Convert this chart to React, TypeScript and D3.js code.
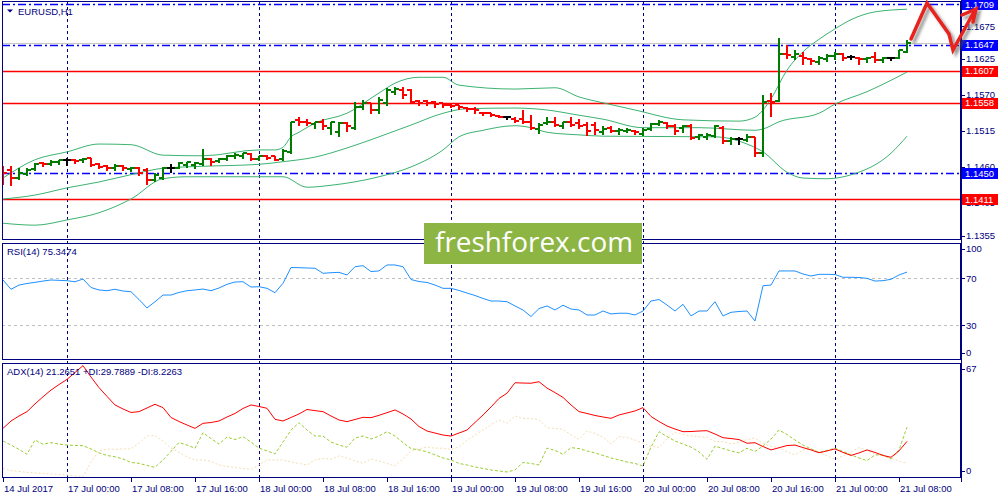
import React from 'react';
import * as d3 from 'd3';

// ---------- DATA ----------
const symbolTitle = 'EURUSD,H1';
const rsiTitle = 'RSI(14) 75.3474';
const adxTitle = 'ADX(14) 21.2651 +DI:29.7889 -DI:8.2263';
const watermark = 'freshforex.com';

const opens = [
  1.1456, 1.1456, 1.1443, 1.1449, 1.1457, 1.1466, 1.1465, 1.1468, 1.1470, 1.1471,
  1.1470, 1.1473, 1.1464, 1.1462, 1.1459, 1.1462, 1.1457, 1.1459, 1.1455, 1.1440,
  1.1443, 1.1458, 1.1459, 1.1463, 1.1463, 1.1465, 1.1472, 1.1469, 1.1472, 1.1476,
  1.1477, 1.1480, 1.1472, 1.1476, 1.1476, 1.1472, 1.1483, 1.1532, 1.1529, 1.1526,
  1.1528, 1.1519, 1.1514, 1.1527, 1.1519, 1.1552, 1.1557, 1.1547, 1.1557, 1.1575,
  1.1578, 1.1578, 1.1561, 1.1561, 1.1560, 1.1557, 1.1555, 1.1554, 1.1550, 1.1549,
  1.1543, 1.1542, 1.1538, 1.1536, 1.1534, 1.1533, 1.1529, 1.1518, 1.1527, 1.1529,
  1.1522, 1.1529, 1.1527, 1.1524, 1.1524, 1.1514, 1.1520, 1.1515, 1.1515, 1.1515,
  1.1511, 1.1518, 1.1526, 1.1527, 1.1522, 1.1519, 1.1522, 1.1505, 1.1505, 1.1507,
  1.1520, 1.1500, 1.1502, 1.1501, 1.1505, 1.1482, 1.1561, 1.1561, 1.1633, 1.1628,
  1.1630, 1.1625, 1.1621, 1.1625, 1.1630, 1.1632, 1.1628, 1.1626, 1.1625, 1.1628,
  1.1623, 1.1626, 1.1627, 1.1636,
];
const highs = [
  1.1461, 1.1461, 1.1459, 1.1458, 1.1466, 1.1468, 1.1470, 1.1471, 1.1473, 1.1472,
  1.1473, 1.1473, 1.1466, 1.1463, 1.1465, 1.1463, 1.1460, 1.1460, 1.1458, 1.1450,
  1.1460, 1.1464, 1.1468, 1.1468, 1.1468, 1.1487, 1.1474, 1.1474, 1.1479, 1.1481,
  1.1482, 1.1481, 1.1477, 1.1478, 1.1477, 1.1487, 1.1529, 1.1536, 1.1534, 1.1529,
  1.1533, 1.1529, 1.1528, 1.1529, 1.1560, 1.1562, 1.1558, 1.1567, 1.1580, 1.1582,
  1.1582, 1.1579, 1.1563, 1.1562, 1.1561, 1.1558, 1.1557, 1.1555, 1.1552, 1.1551,
  1.1544, 1.1543, 1.1539, 1.1538, 1.1536, 1.1547, 1.1539, 1.1527, 1.1536, 1.1536,
  1.1529, 1.1537, 1.1533, 1.1528, 1.1529, 1.1522, 1.1522, 1.1519, 1.1519, 1.1516,
  1.1519, 1.1527, 1.1532, 1.1528, 1.1526, 1.1524, 1.1525, 1.1510, 1.1512, 1.1524,
  1.1522, 1.1505, 1.1506, 1.1510, 1.1506, 1.1570, 1.1573, 1.1657, 1.1646, 1.1638,
  1.1636, 1.1627, 1.1630, 1.1633, 1.1635, 1.1634, 1.1631, 1.1628, 1.1628, 1.1636,
  1.1628, 1.1628, 1.1639, 1.1654,
];
const lows = [
  1.1434, 1.1432, 1.1441, 1.1448, 1.1455, 1.1462, 1.1463, 1.1464, 1.1463, 1.1466,
  1.1467, 1.1462, 1.1458, 1.1455, 1.1456, 1.1455, 1.1454, 1.1448, 1.1434, 1.1439,
  1.1441, 1.1453, 1.1458, 1.1460, 1.1459, 1.1463, 1.1463, 1.1468, 1.1470, 1.1473,
  1.1474, 1.1471, 1.1470, 1.1472, 1.1470, 1.1471, 1.1482, 1.1524, 1.1524, 1.1519,
  1.1518, 1.1511, 1.1508, 1.1515, 1.1518, 1.1548, 1.1543, 1.1543, 1.1555, 1.1571,
  1.1566, 1.1557, 1.1555, 1.1555, 1.1552, 1.1551, 1.1551, 1.1548, 1.1546, 1.1543,
  1.1539, 1.1538, 1.1536, 1.1533, 1.1528, 1.1527, 1.1518, 1.1512, 1.1525, 1.1522,
  1.1519, 1.1522, 1.1520, 1.1509, 1.1511, 1.1511, 1.1514, 1.1511, 1.1513, 1.1511,
  1.1509, 1.1516, 1.1524, 1.1519, 1.1511, 1.1514, 1.1502, 1.1502, 1.1502, 1.1506,
  1.1496, 1.1495, 1.1495, 1.1500, 1.1477, 1.1476, 1.1538, 1.1561, 1.1627, 1.1625,
  1.1617, 1.1617, 1.1618, 1.1622, 1.1625, 1.1623, 1.1625, 1.1617, 1.1621, 1.1621,
  1.1621, 1.1623, 1.1626, 1.1635,
];
const closes = [
  1.1450, 1.1443, 1.1451, 1.1455, 1.1465, 1.1464, 1.1468, 1.1470, 1.1470, 1.1469,
  1.1472, 1.1463, 1.1460, 1.1459, 1.1462, 1.1459, 1.1459, 1.1450, 1.1440, 1.1448,
  1.1458, 1.1458, 1.1466, 1.1467, 1.1466, 1.1472, 1.1468, 1.1472, 1.1477, 1.1478,
  1.1481, 1.1472, 1.1476, 1.1474, 1.1471, 1.1485, 1.1529, 1.1528, 1.1527, 1.1528,
  1.1522, 1.1528, 1.1527, 1.1523, 1.1552, 1.1557, 1.1547, 1.1562, 1.1578, 1.1579,
  1.1570, 1.1560, 1.1558, 1.1558, 1.1556, 1.1554, 1.1553, 1.1551, 1.1548, 1.1547,
  1.1542, 1.1540, 1.1537, 1.1536, 1.1530, 1.1528, 1.1519, 1.1524, 1.1529, 1.1524,
  1.1528, 1.1524, 1.1523, 1.1515, 1.1516, 1.1518, 1.1515, 1.1516, 1.1516, 1.1513,
  1.1516, 1.1525, 1.1528, 1.1522, 1.1515, 1.1522, 1.1504, 1.1509, 1.1509, 1.1522,
  1.1499, 1.1502, 1.1502, 1.1506, 1.1482, 1.1560, 1.1560, 1.1633, 1.1631, 1.1633,
  1.1626, 1.1622, 1.1626, 1.1630, 1.1632, 1.1626, 1.1628, 1.1625, 1.1627, 1.1623,
  1.1626, 1.1626, 1.1638, 1.1649,
];

// Bollinger bands, read at the listed bar indices
const bbUpperIdx = [0, 4, 8, 12, 16, 20, 25, 32, 34, 35, 36, 37, 39, 43, 47, 49, 52, 55, 57, 64, 69, 72, 75, 79, 85, 92, 94, 95, 96, 98, 100, 102, 104, 106, 109, 113];
const bbUpperVal = [1.1443, 1.1471, 1.1483, 1.1495, 1.1494, 1.1478, 1.1477, 1.1486, 1.1486, 1.1490, 1.1506, 1.1513, 1.1527, 1.1542, 1.1573, 1.1588, 1.1597, 1.1597, 1.1585, 1.1579, 1.1581, 1.1567, 1.1558, 1.1547, 1.1532, 1.1530, 1.1536, 1.1547, 1.1564, 1.1608, 1.1636, 1.1655, 1.1671, 1.1685, 1.1697, 1.1701];
const bbMiddleIdx = [0, 4, 8, 12, 17, 20, 25, 32, 35, 39, 43, 47, 51, 55, 58, 64, 68, 72, 75, 80, 87, 94, 95, 97, 102, 104, 108, 113];
const bbMiddleVal = [1.1411, 1.1417, 1.1428, 1.1437, 1.1451, 1.1458, 1.1461, 1.1464, 1.1468, 1.1475, 1.1489, 1.1506, 1.1524, 1.1542, 1.1549, 1.1550, 1.1547, 1.1539, 1.1533, 1.1520, 1.1520, 1.1516, 1.1518, 1.1529, 1.1542, 1.1556, 1.1575, 1.1605];
const bbLowerIdx = [0, 4, 8, 12, 16, 20, 23, 32, 35, 38, 41, 47, 51, 55, 57, 60, 64, 66, 68, 72, 75, 89, 93, 95, 98, 100, 103, 106, 111, 113];
const bbLowerVal = [1.1374, 1.1371, 1.1379, 1.1390, 1.1411, 1.1442, 1.1445, 1.1445, 1.1445, 1.1429, 1.1432, 1.1445, 1.1460, 1.1486, 1.1506, 1.1516, 1.1523, 1.1520, 1.1513, 1.1509, 1.1507, 1.1506, 1.1495, 1.1483, 1.1452, 1.1443, 1.1442, 1.1448, 1.1481, 1.1507];

const rsi = [
  68.6, 60.7, 64.3, 65.6, 66.6, 67.7, 68.6, 68.3, 68.0, 67.1,
  69.4, 62.2, 60.1, 59.5, 60.7, 59.2, 58.6, 52.0, 44.8, 50.1,
  55.8, 55.8, 58.0, 59.5, 60.1, 60.9, 59.5, 61.8, 64.9, 66.9,
  67.1, 62.6, 62.9, 61.5, 57.8, 65.8, 79.2, 79.1, 78.8, 78.6,
  74.3, 74.8, 75.1, 72.9, 79.9, 80.8, 75.8, 76.3, 81.4, 81.4,
  79.9, 69.0, 67.3, 66.5, 64.3, 61.5, 61.5, 59.7, 57.5, 55.4,
  52.9, 50.7, 50.7, 50.1, 46.5, 43.1, 37.5, 44.3, 46.5, 43.1,
  47.1, 43.9, 43.1, 38.8, 38.8, 42.2, 39.7, 40.3, 40.3, 38.8,
  42.2, 50.7, 52.0, 47.3, 42.2, 47.9, 38.0, 42.2, 42.2, 50.1,
  38.0, 41.1, 41.8, 42.2, 33.7, 63.7, 64.3, 76.3, 76.3, 76.3,
  73.7, 72.0, 73.4, 73.4, 73.3, 70.9, 70.9, 70.7, 70.0, 67.7,
  68.0, 69.2, 72.9, 75.3,
];
const adx = [
  29.1, 33.5, 36.5, 39.1, 43.7, 48.0, 52.0, 55.3, 58.4, 62.5,
  66.6, 59.8, 53.5, 48.2, 43.1, 40.7, 38.6, 39.1, 41.3, 43.5,
  41.5, 35.6, 33.2, 31.1, 29.1, 32.1, 32.6, 33.5, 35.9, 38.0,
  41.0, 43.1, 42.2, 41.1, 34.5, 33.5, 35.6, 37.7, 40.4, 39.7,
  39.1, 36.5, 34.1, 33.1, 34.4, 35.7, 35.5, 36.9, 38.5, 40.1,
  37.7, 34.7, 30.2, 27.5, 26.3, 25.1, 24.5, 26.3, 28.1, 32.6,
  37.1, 41.9, 47.0, 50.1, 56.4, 56.2, 56.1, 57.0, 53.2, 50.5,
  47.6, 43.1, 39.1, 38.0, 36.8, 35.9, 35.1, 37.1, 38.3, 39.5,
  41.5, 36.2, 33.2, 30.5, 28.7, 27.1, 27.2, 27.5, 27.7, 25.7,
  23.5, 23.0, 22.4, 20.2, 20.5, 18.2, 16.2, 17.5, 18.8, 19.1,
  17.6, 16.2, 14.5, 15.6, 16.8, 14.7, 12.9, 14.4, 16.2, 14.7,
  12.9, 11.8, 15.6, 21.3,
];
const plusDI = [
  21.5, 19.1, 16.5, 13.6, 22.1, 19.6, 20.5, 19.7, 19.1, 18.9,
  18.7, 16.8, 14.4, 12.9, 12.1, 10.8, 8.7, 8.2, 6.9, 5.8,
  10.2, 15.3, 20.6, 19.1, 17.2, 26.5, 23.0, 19.7, 23.9, 22.4,
  24.1, 20.9, 17.3, 15.6, 13.8, 20.9, 28.1, 32.5, 28.1, 24.5,
  24.5, 20.9, 19.1, 17.8, 23.3, 24.5, 22.7, 24.5, 27.1, 24.5,
  20.6, 17.0, 16.2, 15.1, 13.2, 11.4, 10.2, 8.1, 7.2, 6.0,
  5.1, 4.2, 3.6, 3.0, 4.2, 8.7, 8.1, 7.2, 17.3, 15.9,
  13.6, 17.6, 17.0, 15.6, 14.4, 12.9, 11.4, 10.2, 9.0, 8.1,
  6.6, 17.9, 27.1, 24.2, 21.5, 19.7, 17.9, 15.0, 10.6, 18.5,
  17.0, 15.6, 14.4, 17.2, 15.3, 18.5, 22.7, 28.1, 25.4, 22.1,
  19.1, 16.8, 14.7, 15.9, 17.2, 15.3, 13.2, 11.4, 9.8, 13.2,
  13.2, 10.8, 16.2, 29.8,
];
const minusDI = [
  5.2, 3.9, 3.3, 2.8, 2.5, 2.1, 1.8, 1.5, 1.2, 0.6,
  0.2, 9.0, 15.6, 16.6, 16.6, 16.8, 16.8, 20.3, 24.5, 24.8,
  21.5, 17.3, 14.7, 12.0, 10.2, 10.2, 9.3, 7.2, 6.3, 5.7,
  5.1, 4.6, 7.2, 10.2, 10.2, 10.2, 9.0, 8.1, 7.2, 10.2,
  11.1, 10.6, 12.6, 11.4, 9.6, 8.2, 10.8, 9.6, 8.1, 6.6,
  10.8, 15.6, 17.0, 17.8, 17.3, 17.2, 16.5, 17.9, 22.1, 25.1,
  28.1, 31.1, 34.1, 32.1, 36.5, 35.0, 35.1, 34.1, 29.6, 29.0,
  28.5, 25.1, 22.6, 27.5, 26.0, 23.9, 19.7, 24.2, 23.6, 22.1,
  20.2, 18.2, 17.8, 22.7, 26.9, 25.4, 24.5, 24.2, 23.7, 21.2,
  21.2, 19.7, 20.9, 22.4, 23.3, 20.0, 18.5, 17.6, 15.0, 13.2,
  16.2, 17.0, 15.0, 12.6, 10.6, 12.6, 15.0, 17.6, 15.9, 13.8,
  12.6, 11.2, 9.6, 8.2,
];

const priceTicks = [1.1355, 1.1405, 1.1460, 1.1515, 1.1570, 1.1625, 1.1675];
const blueLevels = [1.1709, 1.1647, 1.1450];
const redLevels = [1.1607, 1.1558, 1.1411];
const rsiLevels = [70, 30];
const rsiAxisLabels = [100, 70, 30, 0];
const adxAxisLabels = [67, 0];
const timeLabelIdx = [0, 8, 16, 24, 32, 40, 48, 56, 64, 72, 80, 88, 96, 104, 112];
const timeLabels = [
  '14 Jul 2017', '17 Jul 00:00', '17 Jul 08:00', '17 Jul 16:00', '18 Jul 00:00',
  '18 Jul 08:00', '18 Jul 16:00', '19 Jul 00:00', '19 Jul 08:00', '19 Jul 16:00',
  '20 Jul 00:00', '20 Jul 08:00', '20 Jul 16:00', '21 Jul 00:00', '21 Jul 08:00',
];
const dayStartIdx = [8, 32, 56, 80, 104];

// ---------- LAYOUT ----------
const L = 2, R = 961;
const main = { top: 1, bottom: 240 };
const rsiP = { top: 243, bottom: 360 };
const adxP = { top: 363, bottom: 478 };
const NAVY = '#000080';
const FONT = "'Liberation Sans', Arial, sans-serif";

export default function App() {
  const n = closes.length;
  const x = d3.scaleLinear().domain([0, 113]).range([3, 907]);
  const y = d3.scaleLinear().domain([1.1709, 1.1411]).range([4, 199]);
  const yr = d3.scaleLinear().domain([0, 100]).range([360.6, 243.1]);
  const ya = d3.scaleLinear().domain([0, 67]).range([477, 365]);

  const bandLine = (idx: number[], vals: number[]) =>
    d3.line<number>().x((_, i) => x(idx[i])).y((v) => y(v)).curve(d3.curveMonotoneX)(vals) || '';
  const seriesLine = (vals: number[], sc: d3.ScaleLinear<number, number>) =>
    d3.line<number>().x((_, i) => x(i)).y((v) => sc(v))(vals) || '';

  const clampY = (v: number, top: number, bottom: number) => Math.max(top + 6, Math.min(bottom - 7, v));
  const rnd = (v: number) => Math.round(v);

  const bars = d3.range(n).map((i) => {
    const o = opens[i], c = closes[i];
    const col = c > o ? '#007d00' : c < o ? '#ff0000' : '#000000';
    const xi = rnd(x(i));
    return (
      <g key={i} stroke={col} strokeWidth={2} shapeRendering="crispEdges">
        <line x1={xi} x2={xi} y1={rnd(y(highs[i]))} y2={rnd(y(lows[i])) + 1} />
        <line x1={xi - 4} x2={xi} y1={rnd(y(o))} y2={rnd(y(o))} />
        <line x1={xi} x2={xi + 4} y1={rnd(y(c))} y2={rnd(y(c))} />
      </g>
    );
  });

  return (
    <svg width={1000} height={500} style={{ position: 'absolute', left: 0, top: 0, background: '#fff' }} fontFamily={FONT}>
      <defs>
        <clipPath id="cm"><rect x={L} y={main.top} width={R - L} height={main.bottom - main.top} /></clipPath>
        <clipPath id="cr"><rect x={L} y={rsiP.top} width={R - L} height={rsiP.bottom - rsiP.top} /></clipPath>
        <clipPath id="ca"><rect x={L} y={adxP.top} width={R - L} height={adxP.bottom - adxP.top} /></clipPath>
        <filter id="sh" x="-20%" y="-20%" width="140%" height="140%">
          <feDropShadow dx="3" dy="3" stdDeviation="1.5" floodColor="#555" floodOpacity="0.6" />
        </filter>
      </defs>
      <rect x={0} y={0} width={1000} height={500} fill="#fff" />

      {/* vertical day separators */}
      {dayStartIdx.map((k) => (
        <line key={k} x1={rnd(x(k)) + 0.5} x2={rnd(x(k)) + 0.5} y1={main.top} y2={adxP.bottom} stroke={NAVY} strokeDasharray="3,3" />
      ))}

      {/* MAIN PANEL */}
      <g clipPath="url(#cm)">
        <line x1={L} x2={R} y1={rnd(y(closes[n - 1])) + 0.5} y2={rnd(y(closes[n - 1])) + 0.5} stroke="#c8c8c8" />
        {redLevels.map((p) => (
          <line key={p} x1={L} x2={R} y1={rnd(y(p)) + 0.5} y2={rnd(y(p)) + 0.5} stroke="#ff0000" strokeWidth={1.3} />
        ))}
        {blueLevels.map((p) => (
          <line key={p} x1={L} x2={R} y1={rnd(y(p)) + 0.5} y2={rnd(y(p)) + 0.5} stroke="#0000ff" strokeWidth={1.3} strokeDasharray="8,3,2,3" />
        ))}
        <path d={bandLine(bbUpperIdx, bbUpperVal)} fill="none" stroke="#3cb371" />
        <path d={bandLine(bbMiddleIdx, bbMiddleVal)} fill="none" stroke="#3cb371" />
        <path d={bandLine(bbLowerIdx, bbLowerVal)} fill="none" stroke="#3cb371" />
        {bars}
      </g>
      <rect x={L + 0.5} y={main.top + 0.5} width={R - L - 1} height={main.bottom - main.top - 1} fill="none" stroke={NAVY} />
      <path d="M7,9.5 L13,9.5 L10,12.5 Z" fill={NAVY} />
      <text x={18} y={14.5} fontSize={9.5} fill={NAVY}>{symbolTitle}</text>

      {/* RSI PANEL */}
      <g clipPath="url(#cr)">
        {rsiLevels.map((v) => (
          <line key={v} x1={L} x2={R} y1={rnd(yr(v)) + 0.5} y2={rnd(yr(v)) + 0.5} stroke="#c0c0c0" strokeDasharray="3,3" />
        ))}
        <path d={seriesLine(rsi, yr)} fill="none" stroke="#1e90ff" />
      </g>
      <rect x={L + 0.5} y={rsiP.top + 0.5} width={R - L - 1} height={rsiP.bottom - rsiP.top - 1} fill="none" stroke={NAVY} />
      <text x={7} y={255} fontSize={9.5} fill={NAVY}>{rsiTitle}</text>

      {/* ADX PANEL */}
      <g clipPath="url(#ca)">
        <path d={seriesLine(minusDI, ya)} fill="none" stroke="#f5deb3" strokeDasharray="2,2" />
        <path d={seriesLine(plusDI, ya)} fill="none" stroke="#9acd32" strokeDasharray="3,2" />
        <path d={seriesLine(adx, ya)} fill="none" stroke="#ff0000" />
      </g>
      <rect x={L + 0.5} y={adxP.top + 0.5} width={R - L - 1} height={adxP.bottom - adxP.top - 1} fill="none" stroke={NAVY} />
      <text x={7} y={375} fontSize={9.5} fill={NAVY}>{adxTitle}</text>

      {/* RIGHT AXIS */}
      <line x1={R + 0.5} x2={R + 0.5} y1={0} y2={482} stroke={NAVY} />
      {priceTicks.map((p) => (
        <g key={p}>
          <line x1={R} x2={R + 4} y1={rnd(y(p)) + 0.5} y2={rnd(y(p)) + 0.5} stroke={NAVY} />
          <text x={966} y={y(p)} dy="0.35em" fontSize={9.5} fill={NAVY}>{p.toFixed(4)}</text>
        </g>
      ))}
      {[...blueLevels.map((p) => ({ p, c: '#0000ff' })), ...redLevels.map((p) => ({ p, c: '#ff0000' }))].map(({ p, c }) => (
        <g key={p}>
          <rect x={962} y={rnd(y(p)) - 5} width={36} height={11} fill={c} />
          <text x={965} y={y(p)} dy="0.38em" fontSize={9.5} fill="#fff">{p.toFixed(4)}</text>
        </g>
      ))}
      {rsiAxisLabels.map((v) => (
        <g key={v}>
          <line x1={R} x2={R + 4} y1={rnd(clampY(yr(v), rsiP.top, rsiP.bottom)) + 0.5} y2={rnd(clampY(yr(v), rsiP.top, rsiP.bottom)) + 0.5} stroke={NAVY} />
          <text x={966} y={clampY(yr(v), rsiP.top, rsiP.bottom)} dy="0.35em" fontSize={9.5} fill={NAVY}>{v}</text>
        </g>
      ))}
      {adxAxisLabels.map((v) => (
        <g key={v}>
          <line x1={R} x2={R + 4} y1={rnd(clampY(ya(v), adxP.top, adxP.bottom)) + 0.5} y2={rnd(clampY(ya(v), adxP.top, adxP.bottom)) + 0.5} stroke={NAVY} />
          <text x={966} y={clampY(ya(v), adxP.top, adxP.bottom)} dy="0.35em" fontSize={9.5} fill={NAVY}>{v}</text>
        </g>
      ))}

      {/* BOTTOM AXIS */}
      {timeLabelIdx.map((k, i) => (
        <g key={k}>
          <line x1={rnd(x(k)) + 0.5} x2={rnd(x(k)) + 0.5} y1={adxP.bottom} y2={adxP.bottom + 4} stroke={NAVY} />
          <text x={rnd(x(k)) + 1} y={491.5} fontSize={9.5} fill={NAVY}>{timeLabels[i]}</text>
        </g>
      ))}

      {/* WATERMARK */}
      <rect x={424} y={223} width={218} height={41} fill="#8db543" />
      <text x={435} y={252} fontSize={28} fill="#fff" fontFamily="'Open Sans', 'Noto Sans', sans-serif" textLength={198} lengthAdjust="spacingAndGlyphs">{watermark}</text>

      {/* hand-drawn arrow */}
      <g filter="url(#sh)" fill="none" stroke="#e8201c" strokeWidth={3.5} strokeLinejoin="miter" strokeLinecap="round">
        <path d="M911,39 L927,3 L949,34 L953,50 L975,10" />
        <path d="M962,15 L976,9 L973,22" />
      </g>
    </svg>
  );
}
